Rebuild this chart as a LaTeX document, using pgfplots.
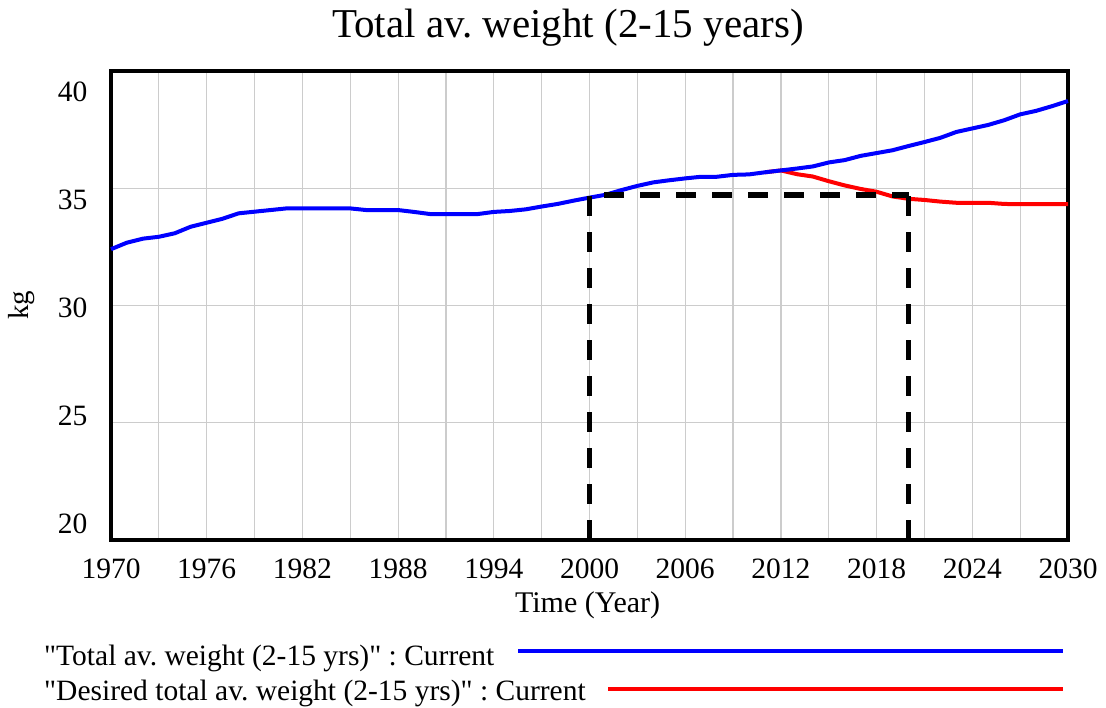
\documentclass[border=0pt]{standalone}
\usepackage{pgfplots}
\pgfplotsset{compat=1.18}
\usepackage{fontspec}
\setmainfont{Liberation Serif}
\frenchspacing
\pgfplotstableread{
year val
1970 32.40
1971 32.68
1972 32.85
1973 32.93
1974 33.08
1975 33.36
1976 33.53
1977 33.70
1978 33.93
1979 34.00
1980 34.07
1981 34.14
1985 34.14
1986 34.07
1988 34.07
1989 33.99
1990 33.90
1993 33.90
1994 33.99
1995 34.03
1996 34.10
1997 34.22
1998 34.33
1999 34.47
2000 34.60
2001 34.72
2002 34.92
2003 35.10
2004 35.25
2005 35.34
2006 35.42
2007 35.49
2008 35.49
2009 35.57
2010 35.59
2011 35.68
2012 35.76
2013 35.84
2014 35.93
2015 36.10
2016 36.20
2017 36.38
2018 36.50
2019 36.62
2020 36.80
2021 36.97
2022 37.15
2023 37.40
2024 37.55
2025 37.70
2026 37.90
2027 38.15
2028 38.30
2029 38.50
2030 38.72
}\totalweight
\pgfplotstableread{
year val
2011 35.68
2012 35.76
2013 35.60
2014 35.50
2015 35.30
2016 35.12
2017 34.97
2018 34.85
2019 34.65
2020 34.55
2021 34.50
2022 34.43
2023 34.38
2024 34.38
2025 34.38
2026 34.33
2027 34.32
2028 34.32
2029 34.32
2030 34.32
}\desiredweight
\begin{document}
\begin{tikzpicture}
\useasboundingbox (0pt,0pt) rectangle (1106pt,708pt);
\begin{axis}[
  at={(111pt,168pt)}, anchor=south west,
  width=957pt, height=469pt, scale only axis,
  xmin=1970, xmax=2030, ymin=20, ymax=40,
  xtick={1970,1976,1982,1988,1994,2000,2006,2012,2018,2024,2030},
  xticklabels={1970,1976,1982,1988,1994,2000,2006,2012,2018,2024,2030},
  minor xtick={1973,1979,1985,1991,1997,2003,2009,2015,2021,2027},
  ytick={20,25,30,35,40},
  yticklabels={\smash{\raisebox{6pt}{20}},\smash{\raisebox{-2.5pt}{25}},\smash{\raisebox{-12pt}{30}},\smash{\raisebox{-21.5pt}{35}},\smash{\raisebox{-31pt}{40}}},
  grid=both,
  major grid style={draw=black!20, line width=1.2pt},
  minor grid style={draw=black!20, line width=1.2pt},
  axis line style={line width=3.5pt},
  tick style={draw=none},
  xticklabel style={font=\fontsize{29.5}{29.5}\selectfont, yshift=-15pt},
  yticklabel style={font=\fontsize{29.5}{29.5}\selectfont, xshift=-20pt},
  title={Total av. weight (2-15 years)},
  title style={font=\fontsize{41}{41}\selectfont, at={(axis description cs:0.4775,1.058)}, anchor=base},
  xlabel={Time (Year)},
  xlabel style={font=\fontsize{30}{30}\selectfont, at={(axis description cs:0.498,-0.1386)}, anchor=center},
  ylabel={kg},
  ylabel style={font=\fontsize{29}{29}\selectfont, at={(axis description cs:-0.093,0.501)}, anchor=center, rotate=0},
  clip=false,
]
\addplot[red, line width=4pt] table[x=year,y=val]{\desiredweight};
\addplot[blue, line width=4pt] table[x=year,y=val]{\totalweight};
\addplot[black, line width=5.5pt, dash pattern=on 20pt off 16pt] coordinates {(2000,20) (2000,34.72) (2020,34.72)};
\addplot[black, line width=5.5pt, dash pattern=on 20pt off 16pt] coordinates {(2020,20) (2020,34.72)};
\end{axis}
\node[anchor=west, font=\fontsize{29.5}{29.5}\selectfont, inner sep=0pt] at (44pt,50pt) {\textquotedbl Total av. weight (2-15 yrs)\textquotedbl{} : Current};
\node[anchor=west, font=\fontsize{29.5}{29.5}\selectfont, inner sep=0pt] at (44pt,15pt) {\textquotedbl Desired total av. weight (2-15 yrs)\textquotedbl{} : Current};
\draw[blue, line width=4pt] (518pt,57pt) -- (1063pt,57pt);
\draw[red, line width=4pt] (608pt,19pt) -- (1063pt,19pt);
\end{tikzpicture}
\end{document}
